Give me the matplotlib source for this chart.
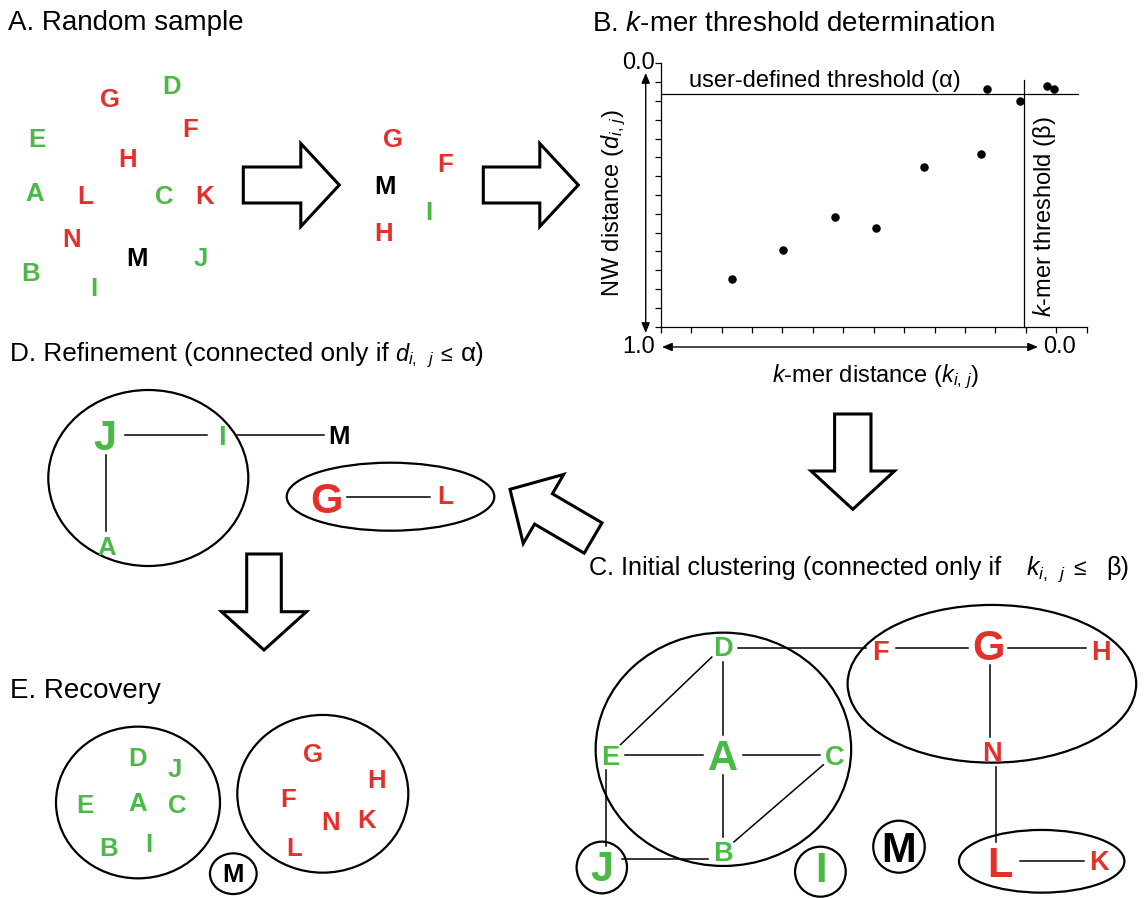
import numpy as np
import matplotlib.pyplot as plt
from matplotlib.patches import Ellipse, Polygon

plt.rcParams['font.family'] = 'Liberation Sans'
plt.rcParams['mathtext.fontset'] = 'custom'
plt.rcParams['mathtext.rm'] = 'Liberation Sans'
plt.rcParams['mathtext.it'] = 'Liberation Sans:italic'
plt.rcParams['mathtext.bf'] = 'Liberation Sans:bold'

# ---- data ----
# panel B: pairwise k-mer distance vs NW distance
kmer_dist = [0.821, 0.690, 0.559, 0.455, 0.335, 0.190, 0.175, 0.091, 0.024, 0.007]
nw_dist = [0.819, 0.709, 0.583, 0.627, 0.393, 0.346, 0.096, 0.144, 0.087, 0.099]
alpha = 0.115   # user-defined NW threshold
beta = 0.082    # k-mer threshold
axis_labels = ['0.0', '1.0', '0.0']

green_seqs = ['A', 'B', 'C', 'D', 'E', 'I', 'J']
red_seqs = ['F', 'G', 'H', 'K', 'L', 'N']
all_seqs = ['D', 'G', 'E', 'F', 'H', 'A', 'L', 'C', 'K', 'N', 'M', 'J', 'B', 'I']
sample_seqs = ['G', 'F', 'M', 'I', 'H']

edges_C = [('D', 'F'), ('F', 'G'), ('G', 'H'), ('G', 'N'), ('N', 'L'), ('L', 'K'),
           ('D', 'A'), ('A', 'B'), ('E', 'A'), ('A', 'C'), ('E', 'D'), ('B', 'C'),
           ('E', 'J'), ('J', 'B')]
edges_D = [('J', 'I'), ('I', 'M'), ('J', 'A'), ('G', 'L')]
recovered = [['D', 'J', 'E', 'A', 'C', 'B', 'I'], ['G', 'H', 'F', 'N', 'K', 'L'], ['M']]

title_A = 'A. Random sample'
title_B = 'B. $k$-mer threshold determination'
title_D = ['D. Refinement (connected only if', r'$d_{i,\ \ j}$', '≤', 'α)']
title_C = ['C. Initial clustering (connected only if', r'$k_{i,\ \ j}$', '≤', 'β)']
title_E = 'E. Recovery'

GREEN = '#4cb847'
RED = '#e3302b'


def color_of(s):
    if s in green_seqs:
        return GREEN
    if s in red_seqs:
        return RED
    return 'black'


# ---- layout (pixel coords) ----
pos_A = {'D': (172, 85), 'G': (110, 98), 'E': (37, 138), 'F': (190, 128),
         'H': (128, 158), 'A': (35, 192), 'L': (85, 195), 'C': (164, 195),
         'K': (205, 195), 'N': (72, 238), 'M': (137, 257), 'J': (201, 257),
         'B': (31, 272), 'I': (94, 287)}
pos_sample = {'G': (393, 138), 'F': (445, 163), 'M': (385, 185), 'I': (429, 211),
              'H': (384, 232)}
# (x, y, fontsize)
pos_C = {'D': (722.6, 646.7, 19.5), 'A': (722.6, 755, 30), 'E': (609.7, 755, 19.5),
         'C': (834.7, 755, 19.5), 'B': (722.6, 851.7, 19.5), 'J': (602.4, 866, 30),
         'I': (820.7, 867.3, 30), 'M': (898.3, 846.7, 30), 'F': (880.7, 650, 19.5),
         'G': (988.4, 645, 30), 'H': (1101.2, 650, 19.5), 'N': (992, 751.7, 19.5),
         'L': (1000, 861.7, 30), 'K': (1099.4, 860, 19.5)}
pos_D = {'J': (104.5, 435, 30), 'I': (222.2, 435, 19.5), 'M': (339.3, 435, 18.5),
         'A': (106.5, 545.7, 18.5), 'G': (327, 498.3, 30), 'L': (444.8, 495, 18.5)}
pos_E = {'D': (137.7, 757), 'J': (174.3, 768), 'E': (85, 804), 'A': (137.3, 802),
         'C': (177.3, 804), 'B': (109, 847), 'I': (149, 843), 'G': (313.3, 753),
         'H': (376.7, 779), 'F': (287.7, 798), 'N': (330.7, 821), 'K': (366.7, 819),
         'L': (294, 847), 'M': (233.3, 873)}

W, H = 1146, 898
fig = plt.figure(figsize=(W / 100, H / 100), dpi=100)
ax = fig.add_axes([0, 0, 1, 1])
ax.set_xlim(0, W)
ax.set_ylim(H, 0)
ax.axis('off')
renderer = fig.canvas.get_renderer()

PX = 100 / 72.0  # px per pt


def letter(x, y, s, size=18.5, color=None):
    c = color if color else color_of(s)
    ax.text(x, y + 0.716 * size * PX / 2, s, fontsize=size, fontweight='bold',
            color=c, ha='center', va='baseline')


def title(x, y, s, size=20):
    ax.text(x, y + 0.716 * size * PX / 2, s, fontsize=size, ha='left', va='baseline')


def title_pieces(x, y, parts, sizes, gaps):
    base = y + 0.716 * sizes[0] * PX / 2
    for s, size, g in zip(parts, sizes, gaps):
        t = ax.text(x, base, s, fontsize=size, ha='left', va='baseline')
        bb = t.get_window_extent(renderer)
        x = bb.x1 + g


def block_arrow(tail, tip, sw=18, hw=41.5, hl=38.5):
    tail = np.array(tail, float)
    tip = np.array(tip, float)
    d = tip - tail
    u = d / np.hypot(*d)
    n = np.array([-u[1], u[0]])
    base = tip - u * hl
    pts = [tail + n * sw, base + n * sw, base + n * hw, tip,
           base - n * hw, base - n * sw, tail - n * sw]
    ax.add_patch(Polygon(pts, closed=True, fill=False, ec='black', lw=2.2,
                         joinstyle='miter'))


def ring(cx, cy, w, h):
    ax.add_patch(Ellipse((cx, cy), w, h, fill=False, ec='black', lw=1.6))


def edge(p, q, ga, gb):
    p = np.array(p[:2], float)
    q = np.array(q[:2], float)
    # hand-drawn style: near-straight edges are drawn exactly straight
    if abs(p[0] - q[0]) < 15:
        p[0] = q[0] = (p[0] + q[0]) / 2
    elif abs(p[1] - q[1]) < 15:
        p[1] = q[1] = (p[1] + q[1]) / 2
    d = q - p
    u = d / np.hypot(*d)
    a = p + u * ga
    b = q - u * gb
    ax.plot([a[0], b[0]], [a[1], b[1]], color='black', lw=1.1)


def gap(size):
    return 20 if size > 20 else 15


# titles
title(8, 20, title_A)
title(592, 21, title_B)
title_pieces(10, 352, title_D, [18.8, 17, 15.5, 18.8], [6, 6, 9, 0])
title_pieces(589, 566, title_C, [18.2, 18, 16.5, 18.2], [25, 7, 20, 0])
title(10, 688, title_E)

# panel A
for s in all_seqs:
    letter(*pos_A[s], s)
block_arrow((243.3, 185), (339.3, 185))
for s in sample_seqs:
    letter(*pos_sample[s], s)
block_arrow((483.3, 185), (578.3, 185))

# panel B scatter
axb = fig.add_axes([660.7 / W, 1 - 326.7 / H, 426 / W, 263.4 / H])
axb.set_facecolor('none')
axb.set_xlim(1.0, -1 / 13)
axb.set_ylim(1.0, 0.0)
for sp in ['top', 'right']:
    axb.spines[sp].set_visible(False)
for sp in ['left', 'bottom']:
    axb.spines[sp].set_linewidth(0.9)
axb.set_xticks(1 - np.arange(15) / 13)
axb.set_yticks(np.arange(15) / 14)
axb.set_xticklabels([])
axb.set_yticklabels([])
axb.tick_params(direction='out', length=4, width=0.9, color='black')
axb.scatter(kmer_dist, nw_dist, s=26, color='black', zorder=3)
axb.plot([1.0, -0.056], [alpha, alpha], color='black', lw=0.9, clip_on=False)
axb.plot([beta, beta], [0.063, 1.0], color='black', lw=0.9, clip_on=False)

ax.text(655, 63, axis_labels[0], fontsize=17, ha='right', va='center')
ax.text(655, 347, axis_labels[1], fontsize=17, ha='right', va='center')
ax.text(1043, 347, axis_labels[2], fontsize=17, ha='left', va='center')
arr = dict(arrowstyle='<|-|>,head_length=0.6,head_width=0.25', lw=1.0,
           color='black', shrinkA=0, shrinkB=0)
ax.annotate('', xy=(645.7, 73), xytext=(645.7, 333), arrowprops=arr)
ax.annotate('', xy=(662, 347), xytext=(1038, 347), arrowprops=arr)
ax.text(825, 87, 'user-defined threshold (α)', fontsize=17, ha='center', va='baseline')
ax.text(1045, 217, '$k$-mer threshold (β)', fontsize=17, rotation=90,
        ha='center', va='center')
ax.text(614, 203, r'NW distance ($d_{i,\,j}$)', fontsize=17, rotation=90,
        ha='center', va='center')
ax.text(876, 377, r'$k$-mer distance ($k_{i,\,j}$)', fontsize=17,
        ha='center', va='center')

# arrow B -> C
block_arrow((852.8, 414), (852.8, 509.3), sw=18.2, hw=41.7, hl=38.3)

# panel C
ring(723.4, 749.3, 255.5, 233.3)
ring(991.9, 683.8, 288.6, 157.7)
ring(1041.7, 861.3, 165.4, 62.7)
ring(601.8, 867.5, 50.4, 51.7)
ring(820.4, 871.7, 50.7, 50)
ring(899, 846.7, 51.5, 52)
for a, b in edges_C:
    pa, pb = pos_C[a], pos_C[b]
    edge(pa, pb, gap(pa[2]), gap(pb[2]))
for s, (x, y, size) in pos_C.items():
    letter(x, y, s, size)

# arrow C -> D
block_arrow((593.1, 538), (510, 489.3), sw=17.6, hw=40, hl=38.8)

# panel D
ring(148.3, 478, 200, 176)
ring(390.5, 496.7, 207.6, 68)
for a, b in edges_D:
    pa, pb = pos_D[a], pos_D[b]
    edge(pa, pb, gap(pa[2]), gap(pb[2]))
for s, (x, y, size) in pos_D.items():
    letter(x, y, s, size)

# arrow D -> E
block_arrow((264, 554), (264, 650), sw=17.3, hw=42.5, hl=38.3)

# panel E
ring(138, 802.5, 164, 151.7)
ring(322.8, 793.8, 171, 157.7)
ring(233.3, 873.7, 46.7, 40.7)
for group in recovered:
    for s in group:
        letter(*pos_E[s], s, 18.5)

fig.savefig('out.png', dpi=100)
